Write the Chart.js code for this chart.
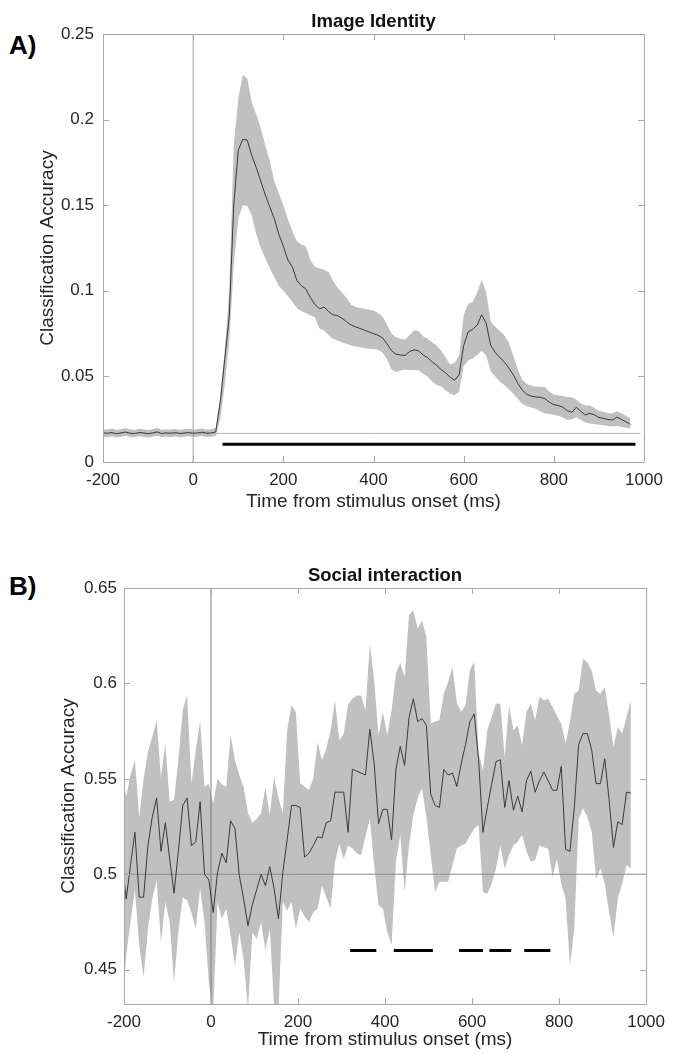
<!DOCTYPE html>
<html>
<head>
<meta charset="utf-8">
<title>Classification accuracy</title>
<script src="https://cdn.jsdelivr.net/npm/chart.js@4.4.1/dist/chart.umd.min.js"></script>
<style>
  body { margin: 0; background: #fff; width: 673px; height: 1054px; overflow: hidden; position: relative; }
  canvas { position: absolute; left: 0; }
  #chartA { top: 0; }
  #chartB { top: 540px; }
  .tag { position: absolute; left: 9px; font: bold 26px/26px "Liberation Sans", Arial, sans-serif; color: #000; }
</style>
</head>
<body>
<div class="tag" style="top:32px">A)</div>
<div class="tag" style="top:573px">B)</div>
<canvas id="chartA" width="673" height="530"></canvas>
<canvas id="chartB" width="673" height="514"></canvas>
<script>
///////////////////////////////////////////////////////////
// DATA - panel A (image identity)
const timesA = [
  -200, -190, -180, -170, -160, -150, -140, -130, -120, -110,
  -100, -90, -80, -70, -60, -50, -40, -30, -20, -10,
  0, 10, 20, 30, 40, 50, 60, 70, 80, 90,
  100, 110, 120, 130, 140, 150, 160, 170, 180, 190,
  200, 210, 220, 230, 240, 250, 260, 270, 280, 290,
  300, 310, 320, 330, 340, 350, 360, 370, 380, 390,
  400, 410, 420, 430, 440, 450, 460, 470, 480, 490,
  500, 510, 520, 530, 540, 550, 560, 570, 580, 590,
  600, 610, 620, 630, 640, 650, 660, 670, 680, 690,
  700, 710, 720, 730, 740, 750, 760, 770, 780, 790,
  800, 810, 820, 830, 840, 850, 860, 870, 880, 890,
  900, 910, 920, 930, 940, 950, 960, 970
];
const meanA = [
  .0170, .0168, .0172, .0165, .0170, .0175, .0168, .0166, .0172, .0170,
  .0165, .0170, .0176, .0166, .0170, .0168, .0171, .0167, .0169, .0172,
  .0168, .0170, .0174, .0168, .0170, .0175, .0350, .0600, .0850, .1500,
  .1820, .1885, .1880, .1790, .1720, .1640, .1560, .1490, .1420, .1330,
  .1260, .1180, .1140, .1060, .1030, .1010, .0960, .0920, .0895, .0905,
  .0880, .0860, .0855, .0840, .0820, .0800, .0790, .0780, .0770, .0760,
  .0750, .0740, .0725, .0690, .0650, .0630, .0625, .0622, .0645, .0655,
  .0650, .0625, .0610, .0585, .0565, .0540, .0520, .0495, .0478, .0510,
  .0680, .0760, .0775, .0800, .0860, .0810, .0680, .0640, .0610, .0585,
  .0550, .0510, .0460, .0420, .0395, .0385, .0380, .0378, .0370, .0350,
  .0335, .0330, .0320, .0300, .0290, .0320, .0295, .0275, .0285, .0275,
  .0260, .0255, .0248, .0245, .0262, .0248, .0235, .0220
];
const upperA = [
  .0192, .0190, .0194, .0188, .0192, .0197, .0190, .0189, .0194, .0192,
  .0187, .0192, .0198, .0189, .0192, .0190, .0193, .0189, .0191, .0194,
  .0190, .0192, .0196, .0190, .0192, .0197, .0380, .0650, .1000, .1850,
  .2120, .2260, .2240, .2100, .2030, .1950, .1850, .1760, .1640, .1570,
  .1500, .1420, .1350, .1290, .1270, .1260, .1180, .1140, .1130, .1125,
  .1110, .1060, .1020, .0990, .0960, .0920, .0905, .0900, .0895, .0890,
  .0885, .0870, .0850, .0800, .0750, .0728, .0720, .0716, .0740, .0770,
  .0765, .0735, .0720, .0700, .0680, .0650, .0610, .0570, .0580, .0620,
  .0860, .0925, .0935, .0990, .1065, .0990, .0820, .0790, .0765, .0740,
  .0700, .0620, .0540, .0480, .0455, .0445, .0440, .0440, .0436, .0410,
  .0395, .0390, .0386, .0380, .0378, .0365, .0340, .0332, .0330, .0315,
  .0300, .0294, .0285, .0285, .0296, .0285, .0270, .0255
];
const lowerA = [
  .0148, .0146, .0150, .0143, .0148, .0153, .0146, .0144, .0150, .0148,
  .0143, .0148, .0154, .0144, .0148, .0146, .0149, .0145, .0147, .0150,
  .0146, .0148, .0152, .0146, .0148, .0153, .0250, .0450, .0700, .1150,
  .1420, .1500, .1495, .1440, .1330, .1250, .1190, .1130, .1080, .1030,
  .1000, .0970, .0935, .0900, .0880, .0870, .0855, .0845, .0780, .0770,
  .0740, .0720, .0710, .0700, .0690, .0680, .0675, .0670, .0665, .0662,
  .0660, .0655, .0640, .0600, .0540, .0525, .0535, .0540, .0538, .0537,
  .0535, .0515, .0500, .0470, .0450, .0442, .0420, .0398, .0390, .0410,
  .0560, .0595, .0605, .0625, .0650, .0620, .0530, .0500, .0470, .0450,
  .0425, .0400, .0370, .0340, .0325, .0318, .0310, .0295, .0285, .0280,
  .0275, .0270, .0260, .0245, .0250, .0262, .0245, .0230, .0225, .0222,
  .0218, .0215, .0210, .0208, .0210, .0205, .0200, .0195
];
const chanceA = 0.0167;
const chanceSpanA = [-200, 992];
const sigStartA = [65];
const sigEndA = [981];
const sigLevelA = 0.0103;
const yRangeA = [0, 0.25];
const yTicksA = [0, 0.05, 0.1, 0.15, 0.2, 0.25];
const yTickLabelsA = ["0", "0.05", "0.1", "0.15", "0.2", "0.25"];

// DATA - panel B (social interaction)
const timesB = [
  -205, -195, -185, -175, -165, -155, -145, -135, -125, -115,
  -105, -95, -85, -75, -65, -55, -45, -35, -25, -15,
  -5, 5, 15, 25, 35, 45, 55, 65, 75, 85,
  95, 105, 115, 125, 135, 145, 155, 165, 175, 185,
  195, 205, 215, 225, 235, 245, 255, 265, 275, 285,
  295, 305, 315, 325, 335, 345, 355, 365, 375, 385,
  395, 405, 415, 425, 435, 445, 455, 465, 475, 485,
  495, 505, 515, 525, 535, 545, 555, 565, 575, 585,
  595, 605, 615, 625, 635, 645, 655, 665, 675, 685,
  695, 705, 715, 725, 735, 745, 755, 765, 775, 785,
  795, 805, 815, 825, 835, 845, 855, 865, 875, 885,
  895, 905, 915, 925, 935, 945, 955, 965
];
const meanB = [
  .508, .487, .505, .522, .488, .488, .515, .530, .540, .512,
  .527, .508, .490, .512, .536, .540, .515, .517, .538, .500,
  .497, .480, .501, .511, .506, .528, .524, .4995, .487, .473,
  .484, .492, .500, .494, .504, .4925, .4767, .501, .518, .536,
  .536, .535, .509, .511, .515, .5196, .519, .527, .528, .543,
  .543, .543, .522, .555, .554, .553, .552, .576, .558, .5265,
  .534, .534, .518, .555, .567, .557, .582, .592, .580, .5816,
  .578, .542, .536, .535, .555, .552, .553, .546, .558, .568,
  .580, .584, .560, .522, .535, .547, .559, .560, .535, .549,
  .5335, .541, .5326, .549, .554, .543, .549, .5536, .549, .544,
  .544, .5565, .513, .512, .535, .568, .5737, .5737, .565, .5475,
  .5475, .5605, .539, .514, .5275, .526, .543, .5425
];
const upperB = [
  .556, .5405, .552, .560, .530, .550, .564, .572, .5806, .551,
  .5684, .538, .539, .560, .586, .5937, .5475, .565, .5806, .5457,
  .5475, .537, .550, .547, .5457, .5728, .5597, .552, .5457, .532,
  .527, .529, .532, .5457, .531, .551, .540, .532, .5754, .5885,
  .585, .5475, .546, .544, .550, .5693, .5597, .566, .5754, .5911,
  .570, .5737, .589, .592, .5937, .5937, .586, .6208, .6016, .5728,
  .585, .5728, .586, .605, .611, .6034, .6357, .6383, .6287, .633,
  .6243, .579, .580, .5807, .5946, .6007, .6086, .590, .585, .5885,
  .607, .6113, .5632, .5545, .5754, .5824, .5894, .5894, .5615, .5885,
  .5754, .578, .5676, .585, .5894, .5807, .593, .5912, .592, .5876,
  .583, .579, .5684, .580, .5946, .5963, .6129, .611, .6068, .5963,
  .5946, .598, .5833, .5667, .5772, .5737, .5824, .591
];
const lowerB = [
  .425, .4574, .475, .492, .4626, .446, .4714, .487, .4968, .4644,
  .4854, .475, .4433, .470, .488, .4863, .480, .4714, .4925, .475,
  .4433, .428, .4854, .4767, .482, .468, .452, .4696, .455, .429,
  .4696, .466, .475, .460, .4714, .431, .428, .4854, .481, .4854,
  .4714, .482, .478, .475, .480, .482, .494, .488, .482, .5065,
  .516, .508, .515, .5135, .511, .510, .520, .529, .5047, .4837,
  .482, .470, .4626, .5065, .5205, .4907, .515, .531, .540, .545,
  .530, .510, .4907, .496, .496, .496, .5047, .5135, .515, .516,
  .520, .524, .5258, .4907, .4898, .495, .503, .515, .503, .510,
  .515, .517, .5205, .512, .5065, .5074, .515, .514, .5135, .4986,
  .5082, .495, .487, .452, .4714, .529, .5346, .530, .5223, .4977,
  .503, .495, .480, .467, .4872, .495, .5047, .503
];
const chanceB = 0.5;
const chanceSpanB = [-200, 1000];
const sigStartB = [320, 420, 570, 640, 720];
const sigEndB = [380, 510, 625, 690, 780];
const sigLevelB = 0.46;
const yRangeB = [0.432, 0.65];
const yTicksB = [0.45, 0.5, 0.55, 0.6, 0.65];
const yTickLabelsB = ["0.45", "0.5", "0.55", "0.6", "0.65"];

// shared x axis
const xRange = [-200, 1000];
const xTicks = [-200, 0, 200, 400, 600, 800, 1000];
const xTickLabels = ["-200", "0", "200", "400", "600", "800", "1000"];

[[timesA, meanA, upperA, lowerA], [timesB, meanB, upperB, lowerB]].forEach((g) => {
  g.forEach((arr) => {
    if (arr.length !== g[0].length) throw new Error("length mismatch " + arr.length + " vs " + g[0].length);
  });
});

///////////////////////////////////////////////////////////
const FONT = "'Liberation Sans', Arial, sans-serif";
const TEXT = "#262626";
const BOX = "#a8a8a8";
const BAND = "#c0c0c0";

function pts(xs, ys) {
  return xs.map((x, i) => ({ x: x, y: ys[i] }));
}

function segments(starts, ends, level) {
  const out = [];
  starts.forEach((s, i) => {
    out.push({ x: s, y: level }, { x: ends[i], y: level }, { x: ends[i], y: null });
  });
  return out;
}

// matlab style box, inward ticks and bold title
const matlabBox = {
  id: "matlabBox",
  afterDatasetsDraw(chart, args, opts) {
    const { ctx, chartArea: a, scales } = chart;
    ctx.save();
    ctx.strokeStyle = BOX;
    ctx.lineWidth = 1;
    ctx.beginPath();
    ctx.rect(a.left + 0.5, a.top + 0.5, a.right - a.left, a.bottom - a.top);
    scales.x.ticks.forEach((t) => {
      const px = Math.round(scales.x.getPixelForValue(t.value)) + 0.5;
      ctx.moveTo(px, a.bottom);
      ctx.lineTo(px, a.bottom - 6);
      ctx.moveTo(px, a.top);
      ctx.lineTo(px, a.top + 6);
    });
    scales.y.ticks.forEach((t) => {
      const py = Math.round(scales.y.getPixelForValue(t.value)) + 0.5;
      ctx.moveTo(a.left, py);
      ctx.lineTo(a.left + 6, py);
      ctx.moveTo(a.right, py);
      ctx.lineTo(a.right - 6, py);
    });
    ctx.stroke();

    ctx.fillStyle = "#111";
    ctx.font = "bold 18.5px " + FONT;
    ctx.textAlign = "center";
    ctx.textBaseline = "middle";
    ctx.fillText(opts.title, (a.left + a.right) / 2, a.top - 12);
    ctx.restore();
  },
};

function makePanel(canvasId, p) {
  const ctx = document.getElementById(canvasId).getContext("2d");
  return new Chart(ctx, {
    type: "line",
    data: {
      datasets: [
        {
          label: "mean",
          data: pts(p.times, p.mean),
          borderColor: "#3a3a3a",
          borderWidth: 1,
        },
        {
          label: "onset",
          data: [{ x: 0, y: p.yRange[0] }, { x: 0, y: p.yRange[1] }],
          borderColor: p.zeroColor,
          borderWidth: 1,
        },
        {
          label: "chance",
          data: [{ x: p.chanceSpan[0], y: p.chance }, { x: p.chanceSpan[1], y: p.chance }],
          borderColor: p.chanceColor,
          borderWidth: 1,
        },
        {
          label: "significant",
          data: segments(p.sigStart, p.sigEnd, p.sigLevel),
          borderColor: "#000",
          borderWidth: 3,
          borderCapStyle: "butt",
          spanGaps: false,
        },
        {
          label: "lower",
          data: pts(p.times, p.lower),
          borderColor: "rgba(0,0,0,0)",
          borderWidth: 1,
          fill: false,
        },
        {
          label: "upper",
          data: pts(p.times, p.upper),
          borderColor: "rgba(0,0,0,0)",
          borderWidth: 1,
          backgroundColor: BAND,
          fill: "-1",
        },
      ],
    },
    options: {
      responsive: false,
      animation: false,
      events: [],
      layout: { padding: p.padding },
      elements: {
        point: { radius: 0 },
        line: { tension: 0, fill: false },
      },
      plugins: {
        legend: { display: false },
        tooltip: { enabled: false },
        matlabBox: { title: p.title },
      },
      scales: {
        x: {
          type: "linear",
          min: xRange[0],
          max: xRange[1],
          grid: { display: false, drawTicks: false },
          border: { display: false },
          afterBuildTicks: (s) => {
            s.ticks = xTicks.map((v) => ({ value: v }));
          },
          afterFit: (s) => {
            s.height = p.xAxisHeight;
          },
          ticks: {
            autoSkip: false,
            maxRotation: 0,
            padding: 8,
            color: TEXT,
            font: { family: FONT, size: 17 },
            callback: (v, i) => xTickLabels[i],
          },
          title: {
            display: true,
            text: "Time from stimulus onset (ms)",
            color: TEXT,
            font: { family: FONT, size: 19 },
            padding: { top: 0, bottom: p.xTitlePad },
          },
        },
        y: {
          type: "linear",
          min: p.yRange[0],
          max: p.yRange[1],
          grid: { display: false, drawTicks: false },
          border: { display: false },
          afterBuildTicks: (s) => {
            s.ticks = p.yTicks.map((v) => ({ value: v }));
          },
          afterFit: (s) => {
            s.width = p.yAxisWidth;
          },
          ticks: {
            padding: p.yTickPad,
            color: TEXT,
            font: { family: FONT, size: 17 },
            callback: (v, i) => p.yTickLabels[i],
          },
          title: {
            display: true,
            text: "Classification Accuracy",
            color: TEXT,
            font: { family: FONT, size: 19 },
            padding: { top: p.yTitlePad, bottom: 0 },
          },
        },
      },
    },
    plugins: [matlabBox],
  });
}

makePanel("chartA", {
  title: "Image Identity",
  times: timesA, mean: meanA, upper: upperA, lower: lowerA,
  chance: chanceA, chanceSpan: chanceSpanA, chanceColor: "#b4b4b4", zeroColor: "#a0a0a0",
  sigStart: sigStartA, sigEnd: sigEndA, sigLevel: sigLevelA,
  yRange: yRangeA, yTicks: yTicksA, yTickLabels: yTickLabelsA,
  padding: { top: 34, right: 29, bottom: 0, left: 0 },
  yAxisWidth: 103, xAxisHeight: 68, xTitlePad: 17, yTitlePad: 36, yTickPad: 9,
});

makePanel("chartB", {
  title: "Social interaction",
  times: timesB, mean: meanB, upper: upperB, lower: lowerB,
  chance: chanceB, chanceSpan: chanceSpanB, chanceColor: "#8c8c8c", zeroColor: "#7c7c7c",
  sigStart: sigStartB, sigEnd: sigEndB, sigLevel: sigLevelB,
  yRange: yRangeB, yTicks: yTicksB, yTickLabels: yTickLabelsB,
  padding: { top: 48, right: 22, bottom: 0, left: 0 },
  yAxisWidth: 124, xAxisHeight: 50, xTitlePad: 3, yTitlePad: 57, yTickPad: 7,
});
</script>
</body>
</html>
